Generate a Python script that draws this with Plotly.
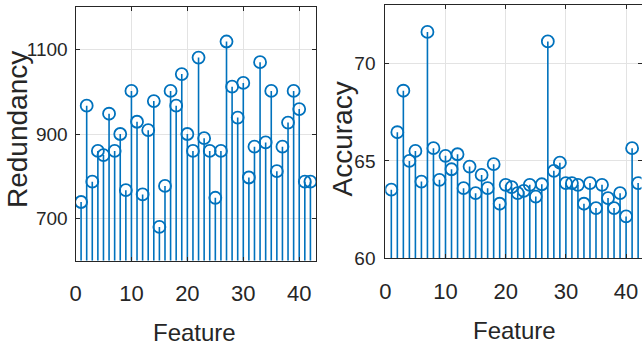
import plotly.graph_objects as go

# Per-feature scores (features numbered 1..42)
features = list(range(1, 43))
redundancy = [739, 967, 787, 860, 850, 948, 860, 900, 767, 1002,
              929, 757, 909, 978, 680, 777, 1002, 967, 1042, 900,
              860, 1081, 890, 860, 749, 860, 1119, 1012, 939, 1021,
              797, 870, 1070, 880, 1002, 812, 870, 927, 1002, 959,
              787, 787]
accuracy = [63.52, 66.47, 68.60, 65.00, 65.51, 63.94, 71.62, 65.65, 64.03, 65.26,
            64.57, 65.34, 63.60, 64.71, 63.34, 64.28, 63.60, 64.83, 62.80, 63.77,
            63.65, 63.34, 63.46, 63.77, 63.17, 63.80, 71.13, 64.49, 64.91, 63.86,
            63.86, 63.77, 62.80, 63.86, 62.58, 63.77, 63.09, 62.58, 63.34, 62.15,
            65.65, 63.86]

red_ticks = [700, 900, 1100]
acc_ticks = [60, 65, 70]
feat_ticks = [0, 10, 20, 30, 40]

BLUE = "#0072BD"
AXC = "#262626"
GRID = "#e3e3e3"
W, H = 642, 349
SANS = "Liberation Sans, Arial, Helvetica, sans-serif"


def stem_xy(xs, ys, base):
    sx, sy = [], []
    for x, y in zip(xs, ys):
        sx += [x, x, None]
        sy += [base, y, None]
    return sx, sy


fig = go.Figure()

panels = [
    # (values, y-range, xaxis id, yaxis id)
    (redundancy, [600, 1200], "x", "y"),
    (accuracy, [60, 73], "x2", "y2"),
]

for vals, yr, xa, ya in panels:
    sx, sy = stem_xy(features, vals, yr[0])
    fig.add_trace(go.Scatter(x=sx, y=sy, mode="lines", xaxis=xa, yaxis=ya,
                             line=dict(color=BLUE, width=1.6),
                             hoverinfo="skip", showlegend=False))
    fig.add_trace(go.Scatter(x=features, y=vals, mode="markers", xaxis=xa, yaxis=ya,
                             marker=dict(symbol="circle-open", size=12,
                                         color=BLUE, line=dict(color=BLUE, width=1.8)),
                             showlegend=False))

axis_common = dict(showline=True, linecolor=AXC, linewidth=1, mirror="ticks",
                   ticks="inside", ticklen=4, tickcolor=AXC, automargin=False,
                   showgrid=True, gridcolor=GRID, gridwidth=1, zeroline=False)


def px_x(p):
    return p / W


def px_y(p):
    return 1 - p / H


xtick_font = dict(family=SANS, size=22, color=AXC)
ytick_font = dict(family=SANS, size=19, color=AXC)

fig.update_layout(
    width=W, height=H, margin=dict(l=0, r=0, t=0, b=0, autoexpand=False),
    paper_bgcolor="white", plot_bgcolor="white",
    xaxis=dict(domain=[px_x(75.5), px_x(316)], range=[0, 43], tickvals=feat_ticks,
               tickfont=xtick_font, ticklabelstandoff=13, anchor="y", **axis_common),
    yaxis=dict(domain=[px_y(260.7), px_y(7.3)], range=[600, 1200], tickvals=red_ticks,
               tickfont=ytick_font, ticklabelstandoff=3, anchor="x", **axis_common),
    xaxis2=dict(domain=[px_x(385.3), px_x(641.5)], range=[0, 42.56], tickvals=feat_ticks,
                tickfont=xtick_font, ticklabelstandoff=13, anchor="y2", **axis_common),
    yaxis2=dict(domain=[px_y(258.3), px_y(5)], range=[60, 73], tickvals=acc_ticks,
                tickfont=ytick_font, ticklabelstandoff=5, anchor="x2", **axis_common),
)

titles = [
    dict(text="Feature", x=px_x(194.5), y=px_y(332), textangle=0, size=24),
    dict(text="Feature", x=px_x(514), y=px_y(330), textangle=0, size=24),
    dict(text="Redundancy", x=px_x(18), y=px_y(130), textangle=-90, size=28),
    dict(text="Accuracy", x=px_x(342), y=px_y(138.5), textangle=-90, size=28),
]
for t in titles:
    size = t.pop("size")
    fig.add_annotation(xref="paper", yref="paper", xanchor="center", yanchor="middle",
                       showarrow=False, font=dict(family=SANS, size=size, color=AXC), **t)

fig.write_html("out.html")
